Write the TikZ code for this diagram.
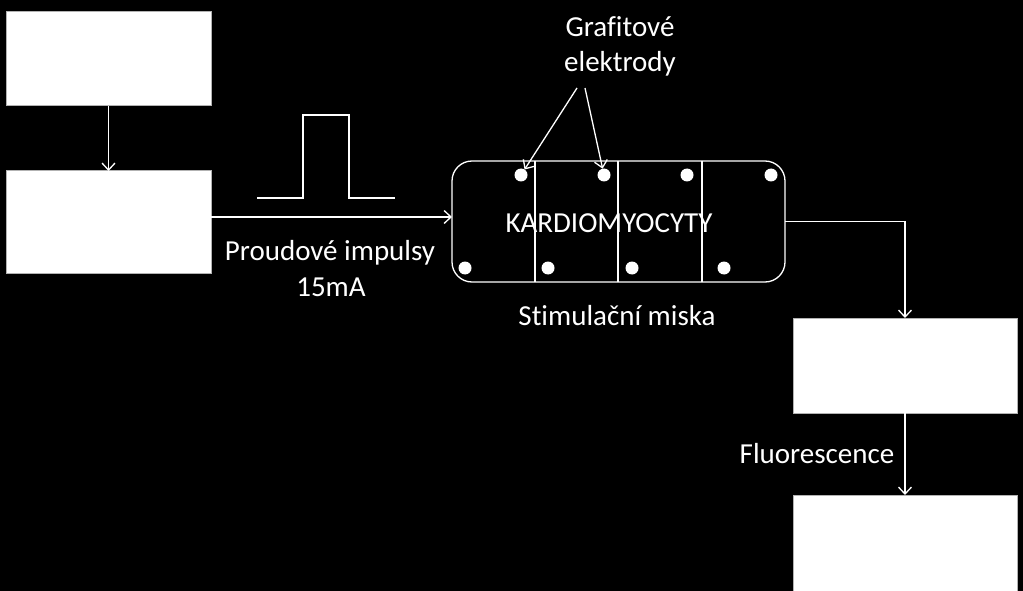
\documentclass[tikz,border=0pt]{standalone}
\usepackage{fontspec}
\setmainfont{Carlito}[Ligatures=CommonOff]
\usetikzlibrary{arrows.meta,calc}
\begin{document}
\begin{tikzpicture}[x=1pt,y=-1pt,
  every node/.style={inner sep=0pt,outer sep=0pt},
  whitebox/.style={rectangle,fill=white,draw=white!70!black,line width=1pt},
  lbl/.style={text=white,font=\fontsize{29}{33}\selectfont,anchor=base},
  arr/.style={draw=white,line width=1.3pt,-{Straight Barb[length=7pt,width=13pt,line width=1.3pt]}},
  ln/.style={draw=white,line width=1.3pt},
  dot/.style={circle,fill=white,minimum size=13pt}]
\fill[black] (0,0) rectangle (1023,591);
\useasboundingbox (0,0) rectangle (1023,591);
% boxes
\node[whitebox,minimum width=205pt,minimum height=94pt] (b1) at (108.5,59) {};
\node[whitebox,minimum width=205pt,minimum height=102pt] (b2) at (108.5,222) {};
\node[whitebox,minimum width=224pt,minimum height=95pt] (b3) at (905,365.5) {};
\node[whitebox,minimum width=224pt,minimum height=98pt] (b4) at (905,544) {};
% dish
\node[draw=white,line width=1.3pt,rounded corners=20pt,minimum width=333pt,minimum height=121pt] (dish) at (618.5,221.5) {};
\draw[ln] (535,161) -- (535,282);
\draw[ln] (618,161) -- (618,282);
\draw[ln] (702,161) -- (702,282);
\node[dot] (t1) at (521,175) {};
\node[dot] (t2) at (604,175) {};
\node[dot] (t3) at (687,175) {};
\node[dot] (t4) at (771,175) {};
\node[dot] (d1) at (465,268) {};
\node[dot] (d2) at (548,268) {};
\node[dot] (d3) at (632,268) {};
\node[dot] (d4) at (724,268) {};
% labels
\node[lbl] (kard) at (609,232) {KARDIOMYOCYTY};
\node[lbl] (graf) at (620,37) {Grafitové};
\node[lbl] (elek) at (620,72) {elektrody};
\node[lbl] (stim) at (617,325) {Stimulační miska};
\node[lbl] (prou) at (330,260) {Proudové impulsy};
\node[lbl] (ma) at (331,296) {15mA};
\node[lbl] (fluo) at (817,463) {Fluorescence};
% pulse
\draw[ln] (257,198) -- (303,198) -- (303,115) -- (349,115) -- (349,198) -- (395,198);
% connectors
\draw[arr] (b1.south) -- (b2.north);
\path (b2.east) ++(0,-5) coordinate (s1);
\draw[arr] (s1) -- (dish.west |- s1);
\draw[arr] (dish.east) -| (b3.north);
\draw[arr] (b3.south) -- (b4.north);
\coordinate (g1) at (577,88);
\coordinate (g2) at (585,88);
\draw[arr] (g1) -- (t1);
\draw[arr] (g2) -- (t2);
\end{tikzpicture}
\end{document}
